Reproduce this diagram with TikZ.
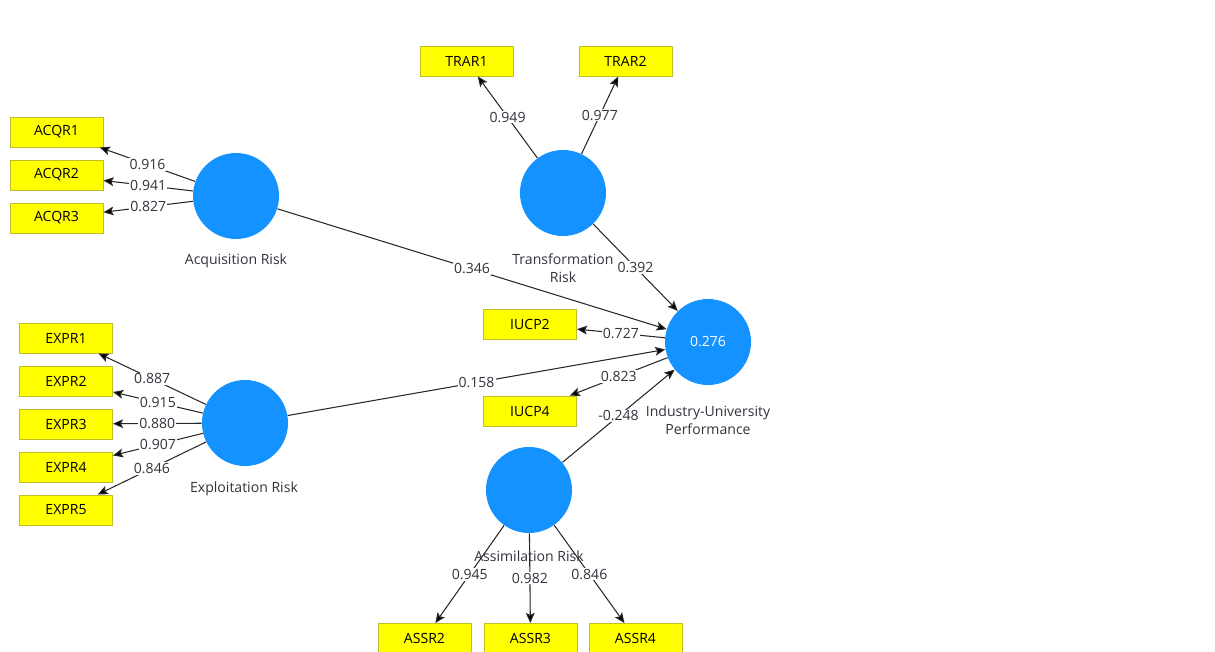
\documentclass[tikz,border=0pt]{standalone}
\usepackage{fontspec}
\setmainfont{Open Sans}
\usetikzlibrary{arrows.meta}
\definecolor{lvblue}{RGB}{20,146,255}
\definecolor{indyellow}{RGB}{255,255,0}
\definecolor{indborder}{RGB}{190,190,40}
\definecolor{edgegray}{RGB}{40,40,40}
\definecolor{txtgray}{RGB}{50,50,60}
\tikzset{
	lv/.style={circle, fill=lvblue, minimum size=1.72cm, inner sep=0pt, text=white, font=\fontsize{8}{10.4}\selectfont},
	ind/.style={rectangle, fill=indyellow, draw=indborder, line width=0.5pt, minimum width=1.86cm, minimum height=0.6cm, inner sep=0pt, font=\fontsize{8}{10.4}\selectfont},
	lvname/.style={align=center, text=txtgray, font=\fontsize{8}{10.4}\selectfont},
	load/.style={midway, fill=white, inner sep=0.6pt, text=txtgray, font=\fontsize{8}{10.4}\selectfont},
	path/.style={->, line width=0.6pt, draw=edgegray},
}

\begin{document}
\begin{tikzpicture}[x=0.02cm, y=-0.02cm, >={Stealth[length=5.8pt,width=5pt,inset=1.2pt,fill=black]}]
	\useasboundingbox (0,0) rectangle (1215,652);
	\clip (0,0) rectangle (1215,652);

	% latent variables
	\node[lv] (acq) at (236,196) {};
	\node[lv] (tra) at (563,193) {};
	\node[lv] (exp) at (245,423) {};
	\node[lv] (ass) at (529,490) {};
	\node[lv] (iup) at (708,342) {0.276};

	\node[lvname] (acqname) at (236,261) {Acquisition Risk};
	\node[lvname] (traname) at (563,268) {Transformation\\Risk};
	\node[lvname] (expname) at (244,489) {Exploitation Risk};
	\node[lvname] (iupname) at (708,420) {Industry-University\\Performance};

	% indicators
	\node[ind] (acqr1) at (56.5,132) {ACQR1};
	\node[ind] (acqr2) at (56.5,175) {ACQR2};
	\node[ind] (acqr3) at (56.5,218) {ACQR3};
	\node[ind] (trar1) at (466.5,61) {TRAR1};
	\node[ind] (trar2) at (625.5,61) {TRAR2};
	\node[ind] (expr1) at (66,338) {EXPR1};
	\node[ind] (expr2) at (66,381) {EXPR2};
	\node[ind] (expr3) at (66,424) {EXPR3};
	\node[ind] (expr4) at (66,467) {EXPR4};
	\node[ind] (expr5) at (66,510) {EXPR5};
	\node[ind] (iucp2) at (530,324.5) {IUCP2};
	\node[ind] (iucp4) at (530,411) {IUCP4};
	\node[ind] (assr2) at (424.5,638.5) {ASSR2};
	\node[ind] (assr3) at (530.5,638.5) {ASSR3};
	\node[ind] (assr4) at (635.5,638.5) {ASSR4};

	% outer loadings
	\draw[path] (acq) -- node[load] {0.916} (acqr1);
	\draw[path] (acq) -- node[load] {0.941} (acqr2);
	\draw[path] (acq) -- node[load] {0.827} (acqr3);
	\draw[path] (tra) -- node[load] {0.949} (trar1);
	\draw[path] (tra) -- node[load] {0.977} (trar2);
	\draw[path] (exp) -- node[load] {0.887} (expr1);
	\draw[path] (exp) -- node[load] {0.915} (expr2);
	\draw[path] (exp) -- node[load] {0.880} (expr3);
	\draw[path] (exp) -- node[load] {0.907} (expr4);
	\draw[path] (exp) -- node[load] {0.846} (expr5);
	\draw[path] (iup) -- node[load] {0.727} (iucp2);
	\draw[path] (iup) -- node[load] {0.823} (iucp4);
	\draw[path] (ass) -- node[load] {0.945} (assr2);
	\draw[path] (ass) -- node[load] {0.982} (assr3);
	\draw[path] (ass) -- node[load] {0.846} (assr4);

	% path coefficients
	\draw[path] (acq) -- node[load] {0.346} (iup);
	\draw[path] (tra) -- node[load] {0.392} (iup);
	\draw[path] (exp) -- node[load] {0.158} (iup);
	\draw[path] (ass) -- node[load] {-0.248} (iup);

	\node[lvname] (assname) at (529,556) {Assimilation Risk};
\end{tikzpicture}
\end{document}
